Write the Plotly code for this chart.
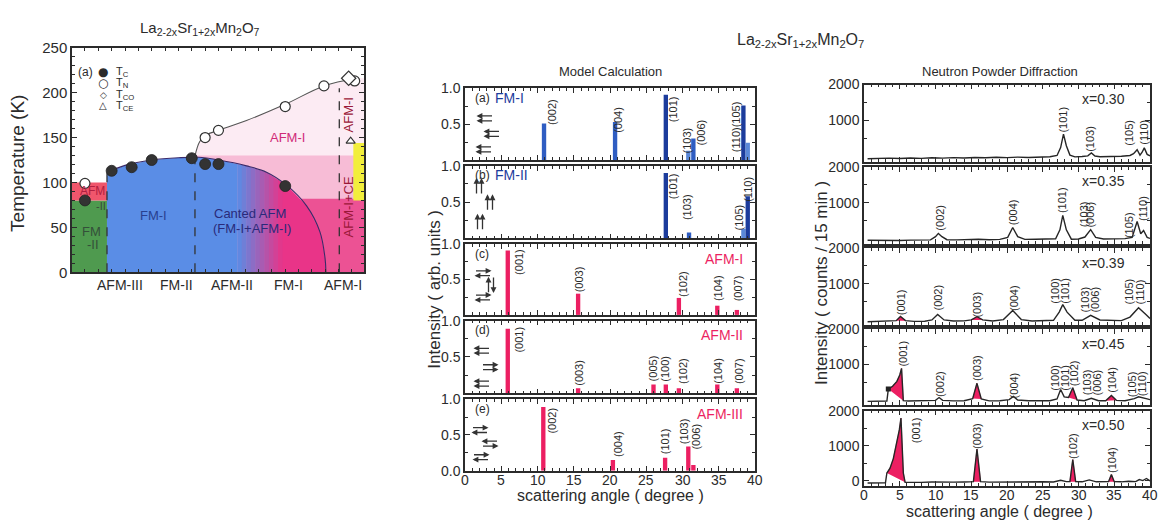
import numpy as np
import plotly.graph_objects as go

# ------------------------------------------------------------------ data
# (a) phase diagram of La2-2xSr1+2xMn2O7 (composition x, temperature K)
comp_range = [0.2903, 0.509]
tc_comp = [0.30, 0.32, 0.335, 0.35, 0.38, 0.39, 0.40, 0.45]
tc_vals = [80, 113, 117, 125, 127, 120.5, 120.5, 96]
tn_comp = [0.30, 0.39, 0.40, 0.45, 0.479, 0.502]
tn_vals = [99, 150, 158, 184.5, 207.5, 213]
tco_comp = [0.4975]
tco_vals = [216]
tce_comp = [0.499]
tce_vals = [146]
dome_comp = [0.3165, 0.33, 0.35, 0.37, 0.385, 0.40, 0.421, 0.436, 0.451, 0.466, 0.476, 0.4798, 0.4805]
dome_temp = [111, 119, 125, 127.5, 128, 125, 118.5, 111.5, 97, 74, 45, 16, 0]
tnline_comp = [0.3824, 0.386, 0.391, 0.40, 0.421, 0.45, 0.479, 0.5035]
tnline_temp = [129.5, 145.6, 153, 158, 169, 187, 207.5, 216]
boundary_comp = [0.3165, 0.3824, 0.4905]
boundary_top = [111, 128, 205]
fm2_temp = [0, 80]
afm_strip_temp = [80, 100]
afm1_strong_top = 130
afm1_deep_comp = [0.462, 0.509]
afm1_deep_temp = [0, 82]
yellow_comp = [0.501, 0.509]
yellow_temp = [80, 144]
ground_states = ["AFM-III", "FM-II", "AFM-II", "FM-I", "AFM-I"]

# Model calculation (scattering angle in degree, intensity arb. units)
fm1_angle = [10.9, 20.7, 27.7, 30.8, 31.5, 38.4, 39.0]
fm1_int = [0.51, 0.53, 0.91, 0.13, 0.30, 0.76, 0.24]
fm2_angle = [27.7, 30.9, 38.4, 39.0]
fm2_int = [0.90, 0.08, 0.13, 0.58]
afm1_angle = [5.9, 15.6, 29.5, 34.8, 37.5]
afm1_int = [0.91, 0.30, 0.24, 0.13, 0.07]
afm2_angle = [5.9, 15.6, 26.0, 27.7, 29.5, 34.8, 37.5]
afm2_int = [0.89, 0.07, 0.12, 0.12, 0.07, 0.12, 0.07]
afm3_angle = [10.8, 20.4, 27.6, 30.8, 31.5]
afm3_int = [0.89, 0.15, 0.18, 0.34, 0.08]
angle_ticks = [0, 5, 10, 15, 20, 25, 30, 35, 40]

# Neutron powder diffraction (scattering angle, counts / 15 min)
x030_ang = [0.5, 2, 3.5, 5, 6.5, 8, 9.5, 11, 12.5, 14, 15.5, 17, 18.5, 20, 21.5, 23, 24.5, 26, 27, 27.5,
            27.9, 28.3, 28.8, 29.5, 30.5, 31.3, 31.8, 32.3, 33, 34.5, 36, 37.2, 37.7, 38.2, 38.6, 38.9,
            39.2, 39.6, 40]
x030_cnt = [-60, -50, -45, -55, -40, -50, -35, -45, -30, -40, -25, -35, -20, -30, -15, -25, -10, -5, 30, 250,
            620, 300, 40, -10, 0, 20, 100, 15, -5, 0, 10, 30, 80, 190, 40, 120, 240, 60, 20]
x035_ang = [0.5, 2, 3.5, 5, 6.5, 8, 9.3, 10, 10.4, 10.9, 11.6, 13, 14.5, 16, 17.5, 19, 20.1, 20.8, 21.5, 22.5,
            24, 25.5, 26.8, 27.4, 27.8, 28.3, 29, 30, 30.9, 31.7, 32.4, 33.5, 35, 36.5, 37.5, 38.2, 38.7,
            39.1, 39.6, 40]
x035_cnt = [-40, -45, -40, -45, -35, -40, -30, 60, 150, 60, -25, -30, -20, -10, -25, -15, 40, 315, 60, -15,
            -10, -15, 0, 250, 650, 250, -10, -5, 50, 255, 40, -5, 0, 5, 40, 480, 140, 230, 40, 10]
x039_ang = [0.5, 2, 3.5, 4.5, 5.1, 5.8, 7, 8.5, 9.5, 10.3, 11.2, 12.5, 14, 15, 15.8, 16.6, 18, 19.5, 20.8,
            22, 23.5, 25, 26.5, 27.3, 27.8, 28.4, 29.5, 30.5, 31.7, 33, 34.5, 36, 37.2, 38.4, 39.5, 40]
x039_cnt = [-70, -60, -60, -40, 80, -40, -60, -55, -20, 135, -20, -50, -45, -20, 70, -20, -50, -10, 245,
            -10, -50, -45, -30, 200, 410, 200, -30, -30, 110, -20, -40, -40, 60, 320, 120, 20]
x045_ang = [0.5, 1.5, 2.5, 3.2, 3.4, 4.0, 4.6, 5.0, 5.25, 5.5, 6.2, 7.5, 9, 10, 10.5, 11, 12.5, 14, 15.2,
            15.8, 16.4, 17.5, 19, 20.3, 20.9, 21.5, 23, 24.5, 26, 27, 27.5, 28, 28.6, 29.2, 29.8, 30.8,
            31.8, 32.8, 33.8, 34.6, 35.3, 36.5, 37.8, 38.4, 39, 39.6, 40]
x045_cnt = [-50, -45, -50, -40, 300, 380, 520, 700, 890, -30, -40, -35, -40, -20, 60, -20, -35, -30, 30,
            465, 20, -35, -30, 0, 90, -10, -30, -35, -30, 20, 290, 80, 60, 340, -10, -30, 40, -30, -30,
            120, -20, -30, 30, 80, 40, 20, 0]
x050_ang = [0.5, 1.5, 2.5, 3.0, 3.2, 3.64, 4.1, 4.57, 4.94, 5.17, 5.5, 5.75, 6.5, 8, 9.5, 11, 12.5, 14,
            15.3, 15.8, 16.3, 17.5, 19, 20.5, 22, 23.5, 25, 26.5, 27.5, 28.3, 28.8, 29.2, 29.6, 30.5,
            31.5, 32.5, 33.5, 34.2, 34.6, 35.0, 36, 37, 38, 38.5, 39, 39.5, 40]
x050_cnt = [-60, -55, -60, -55, 226, 363, 636, 1045, 1454, 1790, 226, -40, -45, -40, -30, -40, -35, -30,
            -20, 910, -20, -35, -30, -20, -35, -30, -25, -30, 20, -20, -20, 610, -20, -25, 30, -25, -20,
            -20, 180, -20, -25, -10, -20, 40, 10, 70, 0]
# magnetic (red) peak windows
x039_mag = [(4.5, 5.8), (15.0, 16.6)]
x045_mag = [(3.4, 5.5), (15.2, 16.4), (28.6, 29.8), (33.8, 35.3)]
x050_mag = [(3.2, 5.75), (15.3, 16.3), (28.8, 29.6), (34.2, 35.0)]

# ------------------------------------------------------------------ styles / layout helpers
W, H = 1164, 531
FONT = "Liberation Sans, Arial, Helvetica, sans-serif"
INK = "#2b2b2b"
RED = "#ec1f62"
DARKB, MIDB, LIGHTB = "#1c3c9c", "#2f5dc2", "#5a88d8"


def fx(px):
    return px / W


def fy(py):
    return 1 - py / H


fig = go.Figure()
ann = []


def txt(x, y, s, size=12, color=INK, xref="paper", yref="paper", angle=0,
        xanchor="center", yanchor="middle", family=FONT):
    ann.append(dict(x=x, y=y, xref=xref, yref=yref, text=s, showarrow=False, textangle=angle,
                    xanchor=xanchor, yanchor=yanchor, font=dict(size=size, color=color, family=family)))


def arrow(hx, hy, tx, ty):
    # head at (hx, hy), tail at (tx, ty); pixel coordinates of the page
    ann.append(dict(x=fx(hx), y=fy(hy), xref="paper", yref="paper", text="", showarrow=True,
                    ax=tx - hx, ay=ty - hy, axref="pixel", ayref="pixel", arrowhead=2,
                    arrowsize=0.9, arrowwidth=1.3, arrowcolor="#333333", standoff=0, startstandoff=0))


def spin_pair(cx, cy, kind, L=17, s=2.5):
    if kind in ("LL", "RR", "RL", "LR"):
        dirs = {"LL": (-1, -1), "RR": (1, 1), "RL": (1, -1), "LR": (-1, 1)}[kind]
        for d, oy in zip(dirs, (-s, s)):
            arrow(cx + d * L / 2, cy + oy, cx - d * L / 2, cy + oy)
    else:
        dirs = {"UU": (-1, -1), "UD": (-1, 1)}[kind]
        for d, ox in zip(dirs, (-s, s)):
            arrow(cx + ox, cy + d * L / 2, cx + ox, cy - d * L / 2)


def axis(domain, rng, anchor, show_labels=False, **kw):
    d = dict(domain=domain, range=rng, anchor=anchor, showgrid=False, zeroline=False,
             showline=True, linecolor=INK, linewidth=1.5, mirror="ticks", ticks="inside",
             ticklen=5, tickwidth=1.2, tickcolor=INK, showticklabels=show_labels,
             tickfont=dict(size=14, color=INK, family=FONT))
    d.update(kw)
    return d


layout_axes = {}

# ------------------------------------------------------------------ left: phase diagram
LX, LY = "x", "y"
layout_axes["xaxis"] = axis([fx(72), fx(364)], comp_range, "y", False, dtick=0.01, tick0=0.30,
                            ticklen=4)
layout_axes["yaxis"] = axis([fy(272), fy(40)], [0, 250], "x", True, dtick=50, tick0=0,
                            tickfont=dict(size=15, color=INK, family=FONT),
                            minor=dict(ticks="inside", ticklen=3, dtick=10, tickcolor=INK))


def poly(xs, ys, color):
    fig.add_trace(go.Scatter(x=xs, y=ys, xaxis=LX, yaxis=LY, mode="lines", fill="toself",
                             fillcolor=color, line=dict(width=0), hoverinfo="skip"))


def rect(x0, x1, y0, y1, color):
    poly([x0, x1, x1, x0, x0], [y0, y0, y1, y1, y0], color)


# faint AFM-I region under T_N
xs = list(tnline_comp) + [comp_range[1], comp_range[1], tnline_comp[0]]
ys = list(tnline_temp) + [tnline_temp[-1], 0, 0]
poly(xs, ys, "#fcebf3")
rect(tnline_comp[0], comp_range[1], 0, afm1_strong_top, "#f7bcd6")
rect(afm1_deep_comp[0], afm1_deep_comp[1], afm1_deep_temp[0], afm1_deep_temp[1], "#ec5294")
rect(yellow_comp[0], yellow_comp[1], yellow_temp[0], yellow_temp[1], "#f2ee3c")
# FM-II (green) and AFM strip
rect(comp_range[0], boundary_comp[0], fm2_temp[0], fm2_temp[1], "#4f9a4f")
rect(comp_range[0], boundary_comp[0], afm_strip_temp[0], afm_strip_temp[1], "#f0566c")


# ferromagnetic dome, blue -> pink
def dome_poly(xa, xb, color):
    inner = [x for x in dome_comp if xa < x < xb]
    xx = [xa] + inner + [xb]
    tt = list(np.interp(xx, dome_comp, dome_temp))
    poly(xx + [xb, xa], tt + [0, 0], color)


blue = np.array([90, 141, 230])
pink = np.array([233, 52, 136])
g0, g1 = 0.414, 0.448
dome_poly(dome_comp[0], g0, "rgb(%d,%d,%d)" % tuple(blue))
nsl = 10
edges = np.linspace(g0, g1, nsl + 1)
for i in range(nsl):
    f = (i + 0.5) / nsl
    c = blue * (1 - f) + pink * f
    dome_poly(edges[i], edges[i + 1] + 0.0004, "rgb(%d,%d,%d)" % tuple(c))
dome_poly(g1, dome_comp[-1], "rgb(%d,%d,%d)" % tuple(pink))

# lines
fig.add_trace(go.Scatter(x=dome_comp, y=dome_temp, xaxis=LX, yaxis=LY, mode="lines",
                         line=dict(color="#3a2a6a", width=1.1, shape="spline"), hoverinfo="skip"))
fig.add_trace(go.Scatter(x=tnline_comp, y=tnline_temp, xaxis=LX, yaxis=LY, mode="lines",
                         line=dict(color="#555555", width=1.1, shape="spline"), hoverinfo="skip"))
for bx, bt in zip(boundary_comp, boundary_top):
    fig.add_trace(go.Scatter(x=[bx, bx], y=[0, bt], xaxis=LX, yaxis=LY, mode="lines",
                             line=dict(color="#333333", width=1.3, dash="dash"), hoverinfo="skip"))

# markers
fig.add_trace(go.Scatter(x=tn_comp, y=tn_vals, xaxis=LX, yaxis=LY, mode="markers",
                         marker=dict(symbol="circle", size=10, color="white",
                                     line=dict(color="#333", width=1.2))))
fig.add_trace(go.Scatter(x=tco_comp, y=tco_vals, xaxis=LX, yaxis=LY, mode="markers",
                         marker=dict(symbol="diamond", size=11, color="white",
                                     line=dict(color="#333", width=1.2))))
fig.add_trace(go.Scatter(x=tce_comp, y=tce_vals, xaxis=LX, yaxis=LY, mode="markers",
                         marker=dict(symbol="triangle-up", size=8, color="white",
                                     line=dict(color="#333", width=1.1))))
fig.add_trace(go.Scatter(x=tc_comp, y=tc_vals, xaxis=LX, yaxis=LY, mode="markers",
                         marker=dict(symbol="circle", size=11, color="#333333",
                                     line=dict(color="#222", width=0.8))))

# left texts
SUBF = "La<sub>2-2x</sub>Sr<sub>1+2x</sub>Mn<sub>2</sub>O<sub>7</sub>"
txt(fx(200), fy(20), SUBF, size=15)
txt(fx(18), fy(160), "Temperature (K)", size=19, angle=-90)
txt(fx(85), fy(65), "(a)", size=12)
for row, (sym, lab, sz) in enumerate([("●", "T<sub>C</sub>", 12), ("○", "T<sub>N</sub>", 12),
                                       ("◇", "T<sub>CO</sub>", 9), ("△", "T<sub>CE</sub>", 10)]):
    py = 65 + row * 11.7
    txt(fx(103), fy(py), sym, size=sz, family="DejaVu Sans")
    txt(fx(114), fy(py), lab, size=11, xanchor="left")
for name, px in zip(ground_states, [120, 176, 232, 288, 343]):
    txt(fx(px), fy(285), name, size=14)
txt(fx(92), fy(188), "AFM", size=12, color="#b02040")
txt(fx(101), fy(203), "-II", size=11, color="#3a4a3a")
txt(fx(91), fy(230), "FM", size=13, color="#34503a")
txt(fx(93), fy(243), "-II", size=13, color="#34503a")
txt(fx(153), fy(213), "FM-I", size=13, color="#28408f")
txt(fx(250), fy(211), "Canted AFM", size=13, color="#2a2a7a")
txt(fx(252), fy(227), "(FM-I+AFM-I)", size=13, color="#2a2a7a")
txt(fx(287), fy(133), "AFM-I", size=13, color="#d02a78")
txt(fx(348), fy(205), "AFM-I+CE", size=13, color="#9a1838", angle=-90)
txt(fx(348), fy(110), "AFM-I", size=13, color="#9a1838", angle=-90)

# ------------------------------------------------------------------ middle: model calculation
mid_panels = [(82, 156), (162, 237), (243, 316), (322, 397), (403, 477)]
mid_x = [fx(465), fx(755)]
bars = [
    (fm1_angle, fm1_int, [MIDB, MIDB, DARKB, LIGHTB, MIDB, DARKB, LIGHTB]),
    (fm2_angle, fm2_int, [DARKB, MIDB, LIGHTB, DARKB]),
    (afm1_angle, afm1_int, [RED] * 5),
    (afm2_angle, afm2_int, [RED] * 7),
    (afm3_angle, afm3_int, [RED] * 5),
]
mid_labels = [
    [("(002)", 12.0, 0.67), ("(004)", 21.1, 0.56), ("(101)", 28.7, 0.71), ("(103)", 30.6, 0.27),
     ("(006)", 32.6, 0.39), ("(110)(105)", 37.4, 0.46)],
    [("(101)", 28.7, 0.72), ("(103)", 30.6, 0.43), ("(105)", 37.8, 0.29), ("(110)", 39.0, 0.68)],
    [("(001)", 7.45, 0.75), ("(003)", 15.7, 0.50), ("(102)", 30.1, 0.44), ("(104)", 34.9, 0.38),
     ("(007)", 37.7, 0.38)],
    [("(001)", 7.45, 0.74), ("(003)", 15.7, 0.28), ("(005)", 25.9, 0.34), ("(100)", 27.6, 0.34),
     ("(102)", 30.1, 0.31), ("(104)", 34.9, 0.31), ("(007)", 37.7, 0.31)],
    [("(002)", 12.0, 0.70), ("(004)", 21.2, 0.37), ("(101)", 27.7, 0.41), ("(103)", 30.2, 0.55),
     ("(006)", 31.9, 0.48)],
]
mid_tags = [("(a)", "FM-I", DARKB, "left"), ("(b)", "FM-II", DARKB, "left"),
            ("(c)", "AFM-I", RED, "right"), ("(d)", "AFM-II", RED, "right"),
            ("(e)", "AFM-III", RED, "right")]
spin_rows = [
    [(485, 113, "LL"), (492, 129, "LL"), (484, 145, "LL")],
    [(479, 183, "UU"), (490, 200, "UU"), (480, 220, "UU")],
    [(483, 273, "RL"), (491, 285, "UD"), (483, 298, "RL")],
    [(482, 353, "LL"), (490, 370, "RR"), (482, 387, "LL")],
    [(480, 435, "RL"), (490, 449, "LR"), (481, 463, "RL")],
]

for i, ((top, bot), (ang, val, cols)) in enumerate(zip(mid_panels, bars)):
    n = i + 2
    xa, ya = "x%d" % n, "y%d" % n
    last = i == len(mid_panels) - 1
    layout_axes["xaxis%d" % n] = axis(mid_x, [0, 40], ya, False, dtick=5, tick0=0,
                                      minor=dict(ticks="inside", ticklen=3, dtick=1, tickcolor=INK))
    tv = [0, 0.5, 1.0] if last else [0.5, 1.0]
    tt = ["0.0", "0.5", "1.0"] if last else ["0.5", "1.0"]
    layout_axes["yaxis%d" % n] = axis([fy(bot), fy(top)], [0, 1.0], xa, True, tickmode="array",
                                      tickvals=tv, ticktext=tt,
                                      minor=dict(ticks="inside", ticklen=3, tickvals=[0.25, 0.75],
                                                 tickcolor=INK))
    fig.add_trace(go.Bar(x=ang, y=val, xaxis=xa, yaxis=ya, width=0.6,
                         marker=dict(color=cols, line=dict(width=0)), hoverinfo="skip"))
    for lab, lx, ly in mid_labels[i]:
        txt(lx, ly, lab, size=11, xref=xa, yref=ya, angle=-90)
    tag, name, col, side = mid_tags[i]
    txt(fx(482), fy(top + 10), tag, size=12)
    if side == "left":
        txt(fx(493), fy(top + 10), name, size=14, color=col, xanchor="left")
    else:
        txt(fx(745), fy(top + 15), name, size=14, color=col, xanchor="right")
    for cx, cy, kind in spin_rows[i]:
        spin_pair(cx, cy, kind)
    if last:
        for t in angle_ticks:
            txt(t, fy(487), str(t), size=14, xref=xa, yref="paper")

txt(fx(610), fy(65), "Model Calculation", size=13)
txt(fx(435), fy(290), "Intensity ( arb. units )", size=17, angle=-90)
txt(fx(610), fy(503), "scattering angle ( degree )", size=16)

# ------------------------------------------------------------------ right: neutron diffraction
right_panels = [(78, 158), (163, 243), (247, 326), (331, 409), (415, 493)]
right_x = [fx(864), fx(1150)]
nd = [
    ("x=0.30", x030_ang, x030_cnt, []),
    ("x=0.35", x035_ang, x035_cnt, []),
    ("x=0.39", x039_ang, x039_cnt, x039_mag),
    ("x=0.45", x045_ang, x045_cnt, x045_mag),
    ("x=0.50", x050_ang, x050_cnt, x050_mag),
]
right_labels = [
    [("(101)", 27.8, 1020), ("(103)", 31.6, 490), ("(105)", 37.1, 670), ("(110)", 39.2, 670)],
    [("(002)", 10.5, 590), ("(004)", 20.8, 730), ("(101)", 27.8, 1070), ("(103)", 30.7, 670),
     ("(006)", 31.6, 670), ("(105)", 37.1, 390), ("(110)", 39.0, 850)],
    [("(001)", 5.1, 490), ("(002)", 10.3, 600), ("(003)", 15.8, 410), ("(004)", 21.0, 600),
     ("(100)", 26.7, 800), ("(101)", 28.1, 800), ("(103)", 30.9, 550), ("(006)", 32.3, 550),
     ("(105)", 37.2, 780), ("(110)", 38.6, 780)],
    [("(001)", 5.45, 1310), ("(002)", 10.6, 440), ("(003)", 15.8, 900), ("(004)", 21.0, 410),
     ("(100)", 26.6, 630), ("(101)", 28.0, 630), ("(102)", 29.4, 760), ("(103)", 31.3, 490),
     ("(006)", 32.6, 490), ("(104)", 34.7, 570), ("(105)", 37.5, 440), ("(110)", 38.9, 440)],
    [("(001)", 7.3, 1450), ("(003)", 15.7, 1290), ("(102)", 29.2, 990), ("(104)", 34.6, 610)],
]

for i, ((top, bot), (lab, ang, cnt, mag)) in enumerate(zip(right_panels, nd)):
    n = i + 7
    xa, ya = "x%d" % n, "y%d" % n
    last = i == len(right_panels) - 1
    layout_axes["xaxis%d" % n] = axis(right_x, [0, 40], ya, False, dtick=5, tick0=0,
                                      minor=dict(ticks="inside", ticklen=3, dtick=1, tickcolor=INK))
    tv = [0, 1000, 2000] if last else [1000, 2000]
    layout_axes["yaxis%d" % n] = axis([fy(bot), fy(top)], [-150, 2000], xa, True, tickmode="array",
                                      tickvals=tv, ticktext=[str(v) for v in tv],
                                      minor=dict(ticks="inside", ticklen=3, tickvals=[500, 1500],
                                                 tickcolor=INK))
    a = np.array(ang, dtype=float)
    c = np.array(cnt, dtype=float)
    for lo, hi in mag:
        m = (a >= lo - 1e-9) & (a <= hi + 1e-9)
        fig.add_trace(go.Scatter(x=a[m], y=c[m], xaxis=xa, yaxis=ya, mode="lines", fill="toself",
                                 fillcolor=RED, line=dict(color=RED, width=0.5), hoverinfo="skip"))
    fig.add_trace(go.Scatter(x=a, y=c, xaxis=xa, yaxis=ya, mode="lines",
                             line=dict(color="#262626", width=1.4), hoverinfo="skip"))
    if lab == "x=0.45":
        fig.add_trace(go.Scatter(x=[mag[0][0]], y=[c[a == mag[0][0]][0]], xaxis=xa, yaxis=ya,
                                 mode="markers", marker=dict(symbol="square", size=5, color="#222"),
                                 hoverinfo="skip"))
    for t, lx, ly in right_labels[i]:
        txt(lx, ly, t, size=11, xref=xa, yref=ya, angle=-90)
    txt(fx(1103), fy(top + 15), lab, size=14)
    if last:
        for t in angle_ticks:
            txt(t, fy(502), str(t), size=14, xref=xa, yref="paper")

txt(fx(1000), fy(65), "Neutron Powder Diffraction", size=13)
txt(fx(822), fy(283), "Intensity ( counts / 15 min )", size=17, angle=-90)
txt(fx(1000), fy(519), "scattering angle ( degree )", size=16)

# big title
txt(fx(800), fy(33), SUBF, size=16)

fig.update_layout(width=W, height=H, autosize=False, margin=dict(l=0, r=0, t=0, b=0),
                  paper_bgcolor="white", plot_bgcolor="white", showlegend=False,
                  barmode="overlay", annotations=ann, font=dict(family=FONT, color=INK),
                  **layout_axes)
fig.write_html("out.html", config={"displayModeBar": False},
               post_script="document.body.style.margin='0';document.body.style.padding='0';"
                           "document.body.style.overflow='hidden';")
